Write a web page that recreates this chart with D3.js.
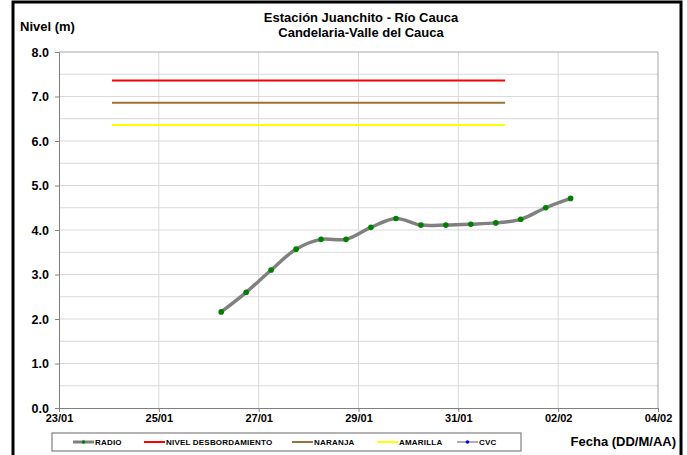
<!DOCTYPE html>
<html>
<head>
<meta charset="utf-8">
<script src="https://cdn.jsdelivr.net/npm/d3@7"></script>
<style>
  body { margin: 0; background: #fff; }
  svg { display: block; font-family: "Liberation Sans", Arial, sans-serif; }
</style>
</head>
<body>
<div id="chart"></div>
<script>
// --- data ---
const radioTimes = [
  "2011-01-26T06:00", "2011-01-26T18:00", "2011-01-27T06:00", "2011-01-27T18:00",
  "2011-01-28T06:00", "2011-01-28T18:00", "2011-01-29T06:00", "2011-01-29T18:00",
  "2011-01-30T06:00", "2011-01-30T18:00", "2011-01-31T06:00", "2011-01-31T18:00",
  "2011-02-01T06:00", "2011-02-01T18:00", "2011-02-02T06:00"
];
const radioLevels = [2.16, 2.60, 3.10, 3.57, 3.79, 3.79, 4.06, 4.26, 4.11, 4.11, 4.13, 4.16, 4.24, 4.50, 4.71];

const thresholdNames = ["NIVEL DESBORDAMIENTO", "NARANJA", "AMARILLA"];
const thresholdLevels = [7.36, 6.86, 6.36];
const thresholdSpan = ["2011-01-24T01:30", "2011-01-31T22:30"];

const xTickDates = ["2011-01-23", "2011-01-25", "2011-01-27", "2011-01-29", "2011-01-31", "2011-02-02", "2011-02-04"];
const yTicks = [0, 1, 2, 3, 4, 5, 6, 7, 8];

const W = 687, H = 455;
const pLeft = 59, pRight = 658, pTop = 52, pBottom = 408;

const parse = s => new Date(s + (s.length > 10 ? ":00Z" : "T00:00:00Z"));

const x = d3.scaleUtc()
  .domain([parse(xTickDates[0]), parse(xTickDates[xTickDates.length - 1])])
  .range([pLeft, pRight]);
const y = d3.scaleLinear().domain([0, 8]).range([pBottom, pTop]);

const svg = d3.select("#chart").append("svg")
  .attr("width", W).attr("height", H);

// outer frame
svg.append("rect")
  .attr("x", 13).attr("y", 2).attr("width", 668).attr("height", 470)
  .attr("fill", "none").attr("stroke", "#000").attr("stroke-width", 3);

// grid
svg.append("g")
  .selectAll("line")
  .data(d3.range(0.5, 8, 0.5))
  .join("line")
  .attr("x1", pLeft).attr("x2", pRight)
  .attr("y1", d => y(d)).attr("y2", d => y(d))
  .attr("stroke", "#d9d9d9").attr("stroke-width", 1);

svg.append("g")
  .selectAll("line")
  .data(xTickDates.slice(1, -1).map(parse))
  .join("line")
  .attr("x1", d => x(d)).attr("x2", d => x(d))
  .attr("y1", pTop).attr("y2", pBottom)
  .attr("stroke", "#d9d9d9").attr("stroke-width", 1);

// plot border top/right
svg.append("path")
  .attr("d", `M${pLeft},${pTop}H${pRight}V${pBottom}`)
  .attr("fill", "none").attr("stroke", "#a6a6a6");

// axes
const yAxis = d3.axisLeft(y).tickValues(yTicks).tickFormat(d3.format(".1f")).tickSize(4).tickPadding(6);
const gy = svg.append("g").attr("transform", `translate(${pLeft},0)`).call(yAxis);
gy.select(".domain").attr("stroke", "#808080");
gy.selectAll(".tick line").attr("stroke", "#808080");
gy.selectAll("text").attr("font-size", 12.5).attr("font-weight", "bold").attr("fill", "#000")
  .attr("font-family", "Liberation Sans, Arial, sans-serif");

const xAxis = d3.axisBottom(x).tickValues(xTickDates.map(parse))
  .tickFormat(d3.utcFormat("%d/%m")).tickSize(4).tickPadding(2);
const gx = svg.append("g").attr("transform", `translate(0,${pBottom})`).call(xAxis);
gx.select(".domain").attr("stroke", "#808080");
gx.selectAll(".tick line").attr("stroke", "#808080");
gx.selectAll("text").attr("font-size", 11).attr("font-weight", "bold").attr("fill", "#000")
  .attr("font-family", "Liberation Sans, Arial, sans-serif");

// threshold lines
const thColors = ["#ff0000", "#a0703c", "#ffff00"];
svg.append("g")
  .selectAll("line")
  .data(thresholdLevels)
  .join("line")
  .attr("x1", x(parse(thresholdSpan[0]))).attr("x2", x(parse(thresholdSpan[1])))
  .attr("y1", d => y(d)).attr("y2", d => y(d))
  .attr("stroke", (d, i) => thColors[i]).attr("stroke-width", 2);

// radio series
const pts = radioTimes.map((t, i) => [parse(t), radioLevels[i]]);
svg.append("path")
  .datum(pts)
  .attr("fill", "none")
  .attr("stroke", "#808080")
  .attr("stroke-width", 3.5)
  .attr("stroke-linejoin", "round")
  .attr("d", d3.line().x(d => x(d[0])).y(d => y(d[1])).curve(d3.curveCatmullRom.alpha(0.5)));

svg.append("g")
  .selectAll("circle")
  .data(pts)
  .join("circle")
  .attr("cx", d => x(d[0])).attr("cy", d => y(d[1])).attr("r", 2.8)
  .attr("fill", "#008000");

// titles
svg.append("text").attr("x", 361).attr("y", 22).attr("text-anchor", "middle")
  .attr("font-size", 13).attr("font-weight", "bold").text("Estación Juanchito - Río Cauca");
svg.append("text").attr("x", 361).attr("y", 37).attr("text-anchor", "middle")
  .attr("font-size", 13).attr("font-weight", "bold").text("Candelaria-Valle del Cauca");
svg.append("text").attr("x", 20).attr("y", 31)
  .attr("font-size", 13).attr("font-weight", "bold").text("Nivel (m)");
svg.append("text").attr("x", 676).attr("y", 446).attr("text-anchor", "end")
  .attr("font-size", 13).attr("font-weight", "bold").text("Fecha (DD/M/AA)");

// legend
svg.append("rect")
  .attr("x", 52).attr("y", 433).attr("width", 469).attr("height", 18)
  .attr("fill", "#fff").attr("stroke", "#808080").attr("stroke-width", 1.2);

const legendNames = ["RADIO"].concat(thresholdNames, ["CVC"]);
const legendX = [73, 144, 292, 377, 457];
const legendStroke = ["#808080"].concat(thColors, ["#b0b0b0"]);
const legendDot = ["#008000", null, null, null, "#0000ff"];
const lg = svg.append("g").selectAll("g")
  .data(legendNames)
  .join("g")
  .attr("transform", (d, i) => `translate(${legendX[i]},442)`);
lg.append("line").attr("x1", 0).attr("x2", 21).attr("y1", 0).attr("y2", 0)
  .attr("stroke", (d, i) => legendStroke[i]).attr("stroke-width", (d, i) => i === 0 ? 3 : 2);
lg.filter((d, i) => legendDot[i]).append("circle")
  .attr("cx", 10.5).attr("cy", 0).attr("r", 1.8)
  .attr("fill", d => legendDot[legendNames.indexOf(d)]);
lg.append("text").attr("x", 22).attr("y", 3)
  .attr("font-size", 8).attr("font-weight", "bold").attr("letter-spacing", 0.2)
  .text(d => d);
</script>
</body>
</html>
